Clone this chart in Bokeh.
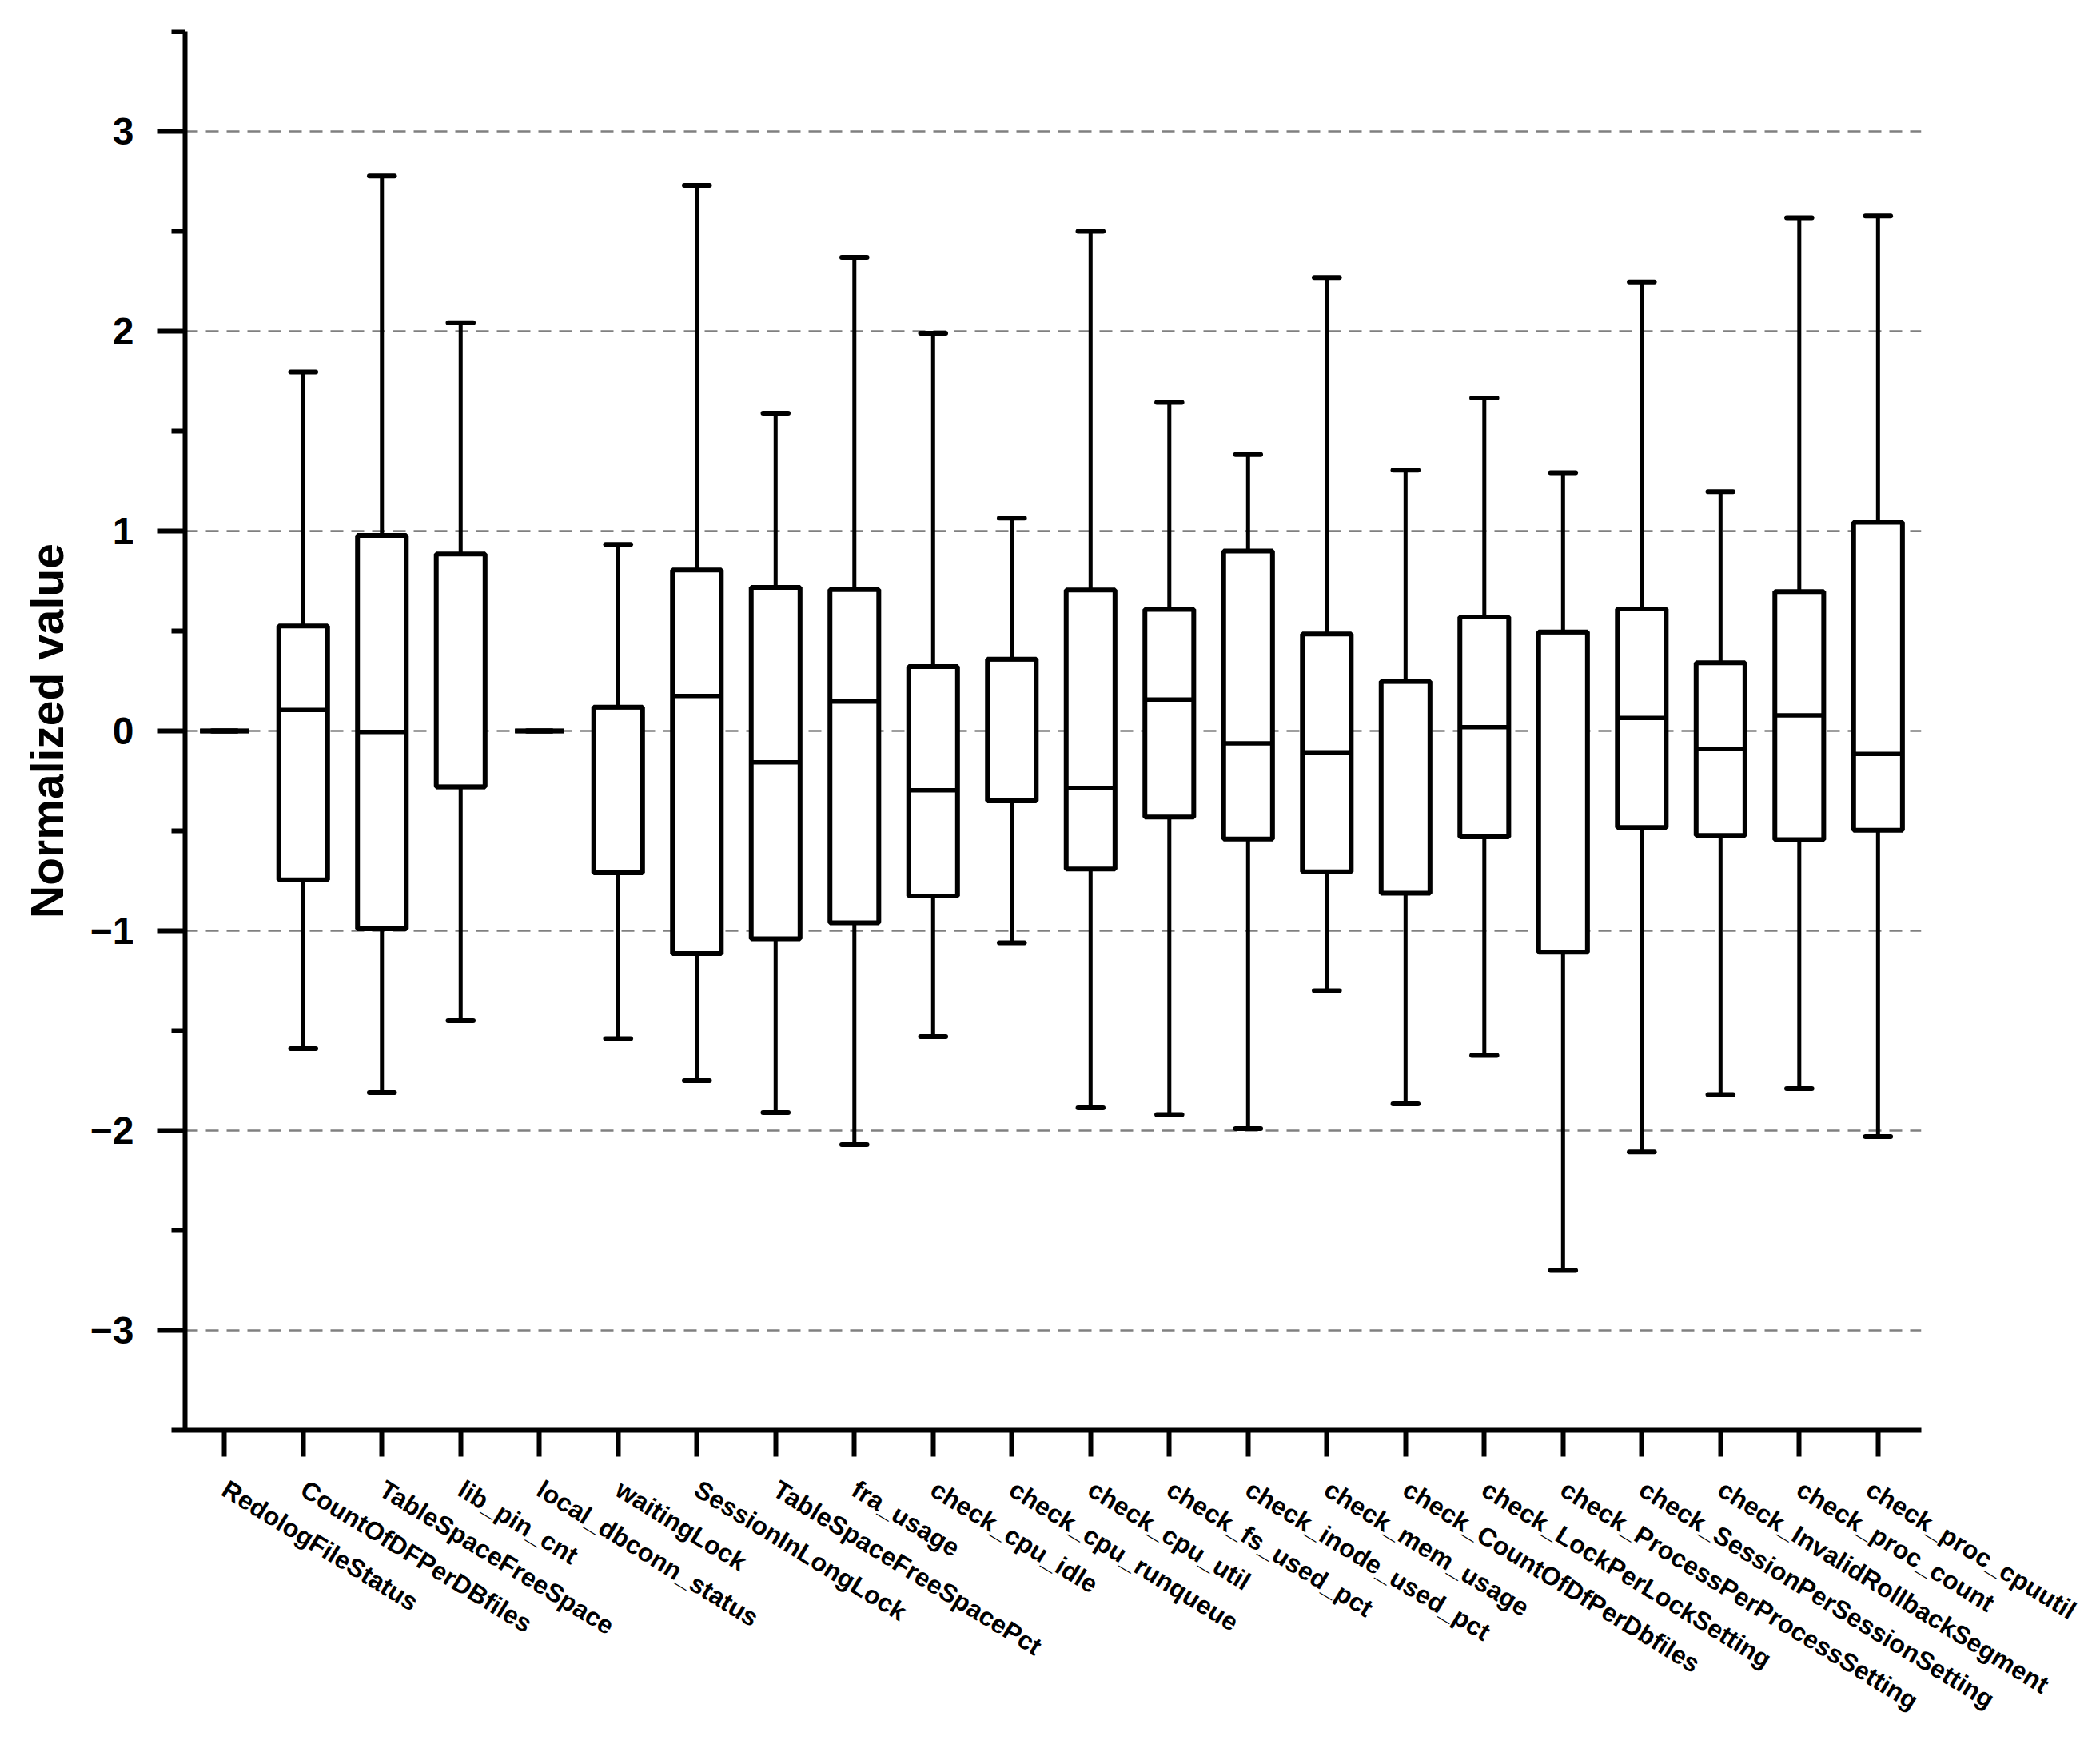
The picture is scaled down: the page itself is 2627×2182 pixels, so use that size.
from bokeh.plotting import figure
from bokeh.models import FixedTicker, Range1d, ColumnDataSource
from bokeh.embed import file_html
from bokeh.resources import INLINE

categories = [
    "RedologFileStatus", "CountOfDFPerDBfiles", "TableSpaceFreeSpace", "lib_pin_cnt",
    "local_dbconn_status", "waitingLock", "SessionInLongLock", "TableSpaceFreeSpacePct",
    "fra_usage", "check_cpu_idle", "check_cpu_runqueue", "check_cpu_util",
    "check_fs_used_pct", "check_inode_used_pct", "check_mem_usage",
    "check_CountOfDfPerDbfiles", "check_LockPerLockSetting", "check_ProcessPerProcessSetting",
    "check_SessionPerSessionSetting", "check_InvalidRollbackSegment", "check_proc_count",
    "check_proc_cpuutil",
]
whisker_low = [0.0, -1.59, -1.81, -1.45, 0.0, -1.54, -1.75, -1.91, -2.07, -1.53, -1.06,
               -1.886, -1.92, -1.99, -1.30, -1.866, -1.624, -2.70, -2.107, -1.82, -1.79, -2.03]
q1 = [0.0, -0.745, -0.99, -0.28, 0.0, -0.71, -1.114, -1.04, -0.96, -0.826, -0.35,
      -0.691, -0.431, -0.541, -0.705, -0.812, -0.53, -1.107, -0.483, -0.523, -0.544, -0.497]
median = [0.0, 0.105, -0.005, -0.28, 0.0, 0.119, 0.175, -0.157, 0.147, -0.297, 0.359,
          -0.285, 0.157, -0.062, -0.107, 0.248, 0.019, 0.495, 0.065, -0.09, 0.078, -0.115]
q3 = [0.0, 0.525, 0.978, 0.885, 0.0, 0.119, 0.805, 0.718, 0.707, 0.322, 0.359,
      0.705, 0.608, 0.9, 0.485, 0.248, 0.570, 0.495, 0.610, 0.341, 0.697, 1.044]
whisker_high = [0.0, 1.796, 2.777, 2.043, 0.0, 0.933, 2.73, 1.59, 2.37, 1.99, 1.065,
                2.50, 1.644, 1.383, 2.269, 1.305, 1.666, 1.292, 2.247, 1.197, 2.568, 2.577]
y_ticks = [-3, -2, -1, 0, 1, 2, 3]
y_minor = [-3.5, -2.5, -1.5, -0.5, 0.5, 1.5, 2.5, 3.5]

xs = list(range(1, len(categories) + 1))
BOX_W = 0.62
CAP_W = 0.32

src = ColumnDataSource(dict(
    x=xs, lo=whisker_low, q1=q1, med=median, q3=q3, hi=whisker_high,
    left=[x - BOX_W / 2 for x in xs], right=[x + BOX_W / 2 for x in xs],
    cl=[x - CAP_W / 2 for x in xs], cr=[x + CAP_W / 2 for x in xs],
))

FONT = "Liberation Sans"

p = figure(
    output_backend="svg", toolbar_location=None,
    frame_width=2172, frame_height=1750,
    min_border_left=231, min_border_right=200, min_border_top=39, min_border_bottom=370,
    x_range=Range1d(0.5, 22.55), y_range=Range1d(-3.5, 3.5),
    background_fill_color="white", border_fill_color="white",
)
p.outline_line_color = None

# whiskers
p.segment(x0="x", y0="q3", x1="x", y1="hi", source=src, line_color="black", line_width=5)
p.segment(x0="x", y0="lo", x1="x", y1="q1", source=src, line_color="black", line_width=5)
p.segment(x0="cl", y0="hi", x1="cr", y1="hi", source=src, line_color="black", line_width=6,
          line_cap="round")
p.segment(x0="cl", y0="lo", x1="cr", y1="lo", source=src, line_color="black", line_width=6,
          line_cap="round")
# boxes
p.quad(left="left", right="right", bottom="q1", top="q3", source=src,
       fill_color="white", line_color="black", line_width=6)
# medians
p.segment(x0="left", y0="med", x1="right", y1="med", source=src, line_color="black", line_width=5.5)

# grid
p.xgrid.grid_line_color = None
p.ygrid.grid_line_color = "#808080"
p.ygrid.grid_line_dash = "16 10"
p.ygrid.grid_line_width = 2.5
p.ygrid.level = "underlay"

# y axis
p.yaxis.ticker = FixedTicker(ticks=y_ticks, minor_ticks=y_minor)
p.yaxis.major_label_overrides = {t: (("\u2212" + str(-t)) if t < 0 else str(t)) for t in y_ticks}
p.yaxis.axis_label = "Normalized value"
p.yaxis.axis_label_text_font = FONT
p.yaxis.axis_label_text_font_style = "bold"
p.yaxis.axis_label_text_font_size = "57px"
p.yaxis.axis_label_text_color = "black"
p.yaxis.axis_label_standoff = 19
p.yaxis.major_label_text_font = FONT
p.yaxis.major_label_text_font_style = "bold"
p.yaxis.major_label_text_font_size = "48px"
p.yaxis.major_label_text_color = "black"
p.yaxis.major_label_standoff = 30
p.yaxis.major_tick_out = 34
p.yaxis.major_tick_in = 0
p.yaxis.minor_tick_out = 17
p.yaxis.minor_tick_in = 0

# x axis
p.xaxis.ticker = FixedTicker(ticks=xs, minor_ticks=[])
p.xaxis.major_label_overrides = {x: c for x, c in zip(xs, categories)}
p.xaxis.major_label_orientation = -0.55
p.xaxis.major_label_text_font = FONT
p.xaxis.major_label_text_font_style = "bold"
p.xaxis.major_label_text_font_size = "32px"
p.xaxis.major_label_text_color = "black"
p.xaxis.major_label_standoff = 38
p.xaxis.major_tick_out = 33
p.xaxis.major_tick_in = 0

for ax in (p.xaxis, p.yaxis):
    ax.axis_line_width = 6
    ax.axis_line_color = "black"
    ax.major_tick_line_width = 6
    ax.major_tick_line_color = "black"
    ax.minor_tick_line_width = 6
    ax.minor_tick_line_color = "black"

open("out.html", "w").write(file_html(p, INLINE))
